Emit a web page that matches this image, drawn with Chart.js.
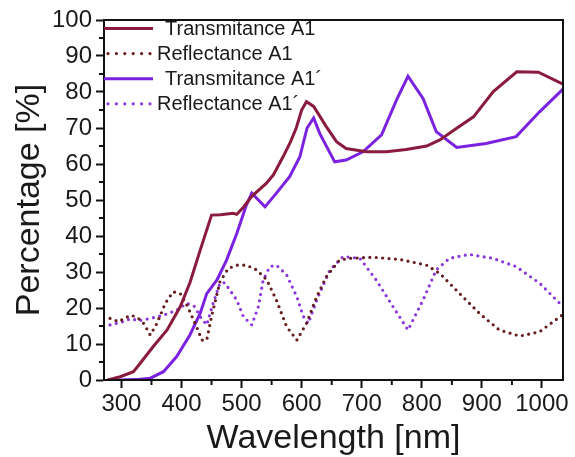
<!DOCTYPE html>
<html>
<head>
<meta charset="utf-8">
<script src="https://cdn.jsdelivr.net/npm/chart.js@4/dist/chart.umd.min.js"></script>
<style>
  html, body { margin: 0; padding: 0; background: #fff; }
  #wrap { width: 575px; height: 457px; }
</style>
</head>
<body>
<div id="wrap"><canvas id="spectra" width="575" height="457"></canvas></div>
<script>
// tick values
const xTicks = [300, 400, 500, 600, 700, 800, 900, 1000];
const xMinorTicks = [350, 450, 550, 650, 750, 850, 950];
const yTicks = [0, 10, 20, 30, 40, 50, 60, 70, 80, 90, 100];
const yMinorTicks = [5, 15, 25, 35, 45, 55, 65, 75, 85, 95];

// series names
const seriesNames = ["Transmitance A1", "Reflectance A1", "Transmitance A1´", "Reflectance A1´"];

// Transmitance A1
const transA1X = [277, 298, 320, 331, 353, 376, 398, 414, 431, 450, 465, 486, 492, 503, 517, 541, 553, 569, 581, 591, 600, 608, 620, 641, 658, 674, 708, 741, 774, 808, 830, 858, 886, 919, 958, 994, 1035];
const transA1Y = [0, 0.9, 2.3, 4.6, 9.3, 13.9, 20.4, 27, 36, 45.8, 45.9, 46.3, 46, 48, 51, 54.6, 57, 62, 66, 70, 75, 77.3, 76, 70.4, 66.2, 64.3, 63.4, 63.4, 64, 65, 66.7, 69.9, 73.1, 80.1, 85.6, 85.5, 82.2];

// Reflectance A1
const reflA1X = [281, 296, 304, 317, 329, 337, 348, 359, 373, 386, 398, 409, 425, 434, 442, 450, 464, 478, 492, 508, 525, 542, 558, 575, 592, 608, 625, 641, 663, 680, 719, 763, 808, 830, 863, 896, 929, 963, 996, 1035];
const reflA1Y = [17.1, 16.2, 17.1, 18, 17, 15.7, 12.5, 15.7, 21.3, 24.5, 24, 20.8, 14.8, 11.1, 11.1, 17.6, 27.3, 31, 31.9, 31.9, 30.6, 27.8, 22.2, 14.8, 11.1, 15.7, 23.1, 28.7, 33.3, 33.8, 34.1, 33.5, 31.9, 29.6, 24, 18.5, 13.9, 12.2, 13.4, 18.2];

// Transmitance A1´
const transA1pX = [277, 300, 330, 348, 370, 392, 414, 431, 442, 459, 475, 492, 508, 517, 539, 558, 580, 597, 609, 620, 630, 655, 674, 702, 733, 758, 777, 802, 824, 858, 907, 957, 996, 1035];
const transA1pY = [0, 0, 0.2, 0.5, 2.3, 6.5, 12.5, 18.5, 24, 27.8, 33.3, 40.7, 48.6, 51.9, 48.1, 51.9, 56.5, 62, 70, 72.8, 68.5, 60.6, 61.1, 63.4, 68.1, 77.8, 84.4, 78.2, 69, 64.6, 65.7, 67.6, 74.5, 80.8];

// Reflectance A1´
const reflA1pX = [281, 303, 315, 330, 348, 370, 392, 409, 422, 431, 442, 452, 464, 472, 492, 503, 517, 528, 536, 547, 558, 575, 592, 603, 611, 625, 647, 669, 697, 724, 752, 777, 802, 824, 846, 879, 918, 957, 996, 1035];
const reflA1pY = [15.3, 16.2, 17, 16.5, 17.1, 18, 19.4, 21.3, 20.4, 17.6, 15.3, 21, 26.9, 27, 22.2, 17.6, 15.3, 20.4, 27.8, 31.5, 31.9, 29.2, 23.1, 17.6, 15.7, 22.2, 30.6, 34.3, 33.8, 27.8, 20.4, 13.9, 22.2, 30.6, 33.8, 34.9, 33.8, 31.5, 26.9, 20.4];

const toPoints = (xs, ys) => xs.map((x, i) => ({ x: x, y: ys[i] }));

Chart.defaults.font.family = "'Liberation Sans', Arial, sans-serif";
Chart.defaults.color = "#1a1a1a";

// frame, minor ticks and the legend inside the plot
const framePlugin = {
    id: "framePlugin",
    afterDraw(chart) {
        const { ctx, chartArea: a, scales } = chart;
        ctx.save();
        ctx.strokeStyle = "#111";
        ctx.lineWidth = 2;
        ctx.strokeRect(a.left, a.top, a.right - a.left, a.bottom - a.top);

        ctx.beginPath();
        xMinorTicks.forEach((v) => {
            const px = scales.x.getPixelForValue(v);
            ctx.moveTo(px, a.bottom);
            ctx.lineTo(px, a.bottom + 5);
        });
        yMinorTicks.forEach((v) => {
            const py = scales.y.getPixelForValue(v);
            ctx.moveTo(a.left, py);
            ctx.lineTo(a.left - 5, py);
        });
        ctx.stroke();

        // legend
        ctx.font = "20px 'Liberation Sans', Arial, sans-serif";
        ctx.textBaseline = "middle";
        ctx.fillStyle = "#1a1a1a";
        chart.data.datasets.forEach((ds, i) => {
            const yy = a.top + 8.5 + i * 25.1;
            const isDotted = !!ds.borderDash;
            ctx.save();
            ctx.strokeStyle = ds.borderColor;
            ctx.lineWidth = ds.borderWidth;
            ctx.lineCap = ds.borderCapStyle || "butt";
            ctx.setLineDash(isDotted ? [0, 8.4] : []);
            ctx.beginPath();
            ctx.moveTo(a.left + (isDotted ? 4 : 0), yy);
            ctx.lineTo(a.left + 49, yy);
            ctx.stroke();
            ctx.restore();
            ctx.fillText(ds.label, a.left + (isDotted ? 53 : 61), yy + 1);
        });
        ctx.restore();
    },
};

const solid = (label, color, pts) => ({
    label: label,
    data: pts,
    borderColor: color,
    borderWidth: 3,
    pointRadius: 0,
    tension: 0,
});
const dotted = (label, color, pts) => ({
    label: label,
    data: pts,
    borderColor: color,
    borderWidth: 3.2,
    borderDash: [0, 6.4],
    borderCapStyle: "round",
    pointRadius: 0,
    tension: 0,
});

new Chart(document.getElementById("spectra"), {
    type: "line",
    data: {
        datasets: [
            solid(seriesNames[0], "#8a1b3d", toPoints(transA1X, transA1Y)),
            dotted(seriesNames[1], "#641c1c", toPoints(reflA1X, reflA1Y)),
            solid(seriesNames[2], "#7a22e0", toPoints(transA1pX, transA1pY)),
            dotted(seriesNames[3], "#8a36dc", toPoints(reflA1pX, reflA1pY)),
        ],
    },
    options: {
        responsive: false,
        animation: false,
        layout: { padding: { top: 20, right: 12, left: 0, bottom: 0 } },
        plugins: { legend: { display: false }, tooltip: { enabled: false } },
        scales: {
            x: {
                type: "linear",
                min: 271,
                max: 1035,
                afterBuildTicks: (s) => { s.ticks = xTicks.map((v) => ({ value: v })); },
                afterFit: (s) => { s.height = 77; },
                ticks: { font: { size: 24 }, color: "#1a1a1a", padding: 2, maxRotation: 0, autoSkip: false, callback: (v) => String(v) },
                grid: { drawOnChartArea: false, drawTicks: true, tickLength: 8, tickWidth: 2, tickColor: "#111" },
                border: { display: true, color: "#111", width: 2 },
                title: { display: true, text: "Wavelength [nm]", font: { size: 34, lineHeight: 1 }, color: "#1a1a1a", padding: { top: 0, bottom: 1 } },
            },
            y: {
                min: 0,
                max: 100,
                afterBuildTicks: (s) => { s.ticks = yTicks.map((v) => ({ value: v })); },
                afterFit: (s) => { s.width = 104; },
                ticks: { font: { size: 24 }, color: "#1a1a1a", padding: 4, autoSkip: false, callback: (v) => String(v) },
                grid: { drawOnChartArea: false, drawTicks: true, tickLength: 8, tickWidth: 2, tickColor: "#111" },
                border: { display: true, color: "#111", width: 2 },
                title: { display: true, text: "Percentage [%]", font: { size: 34, lineHeight: 1 }, color: "#1a1a1a", padding: { top: 13, bottom: 0 } },
            },
        },
    },
    plugins: [framePlugin],
});
</script>
</body>
</html>
